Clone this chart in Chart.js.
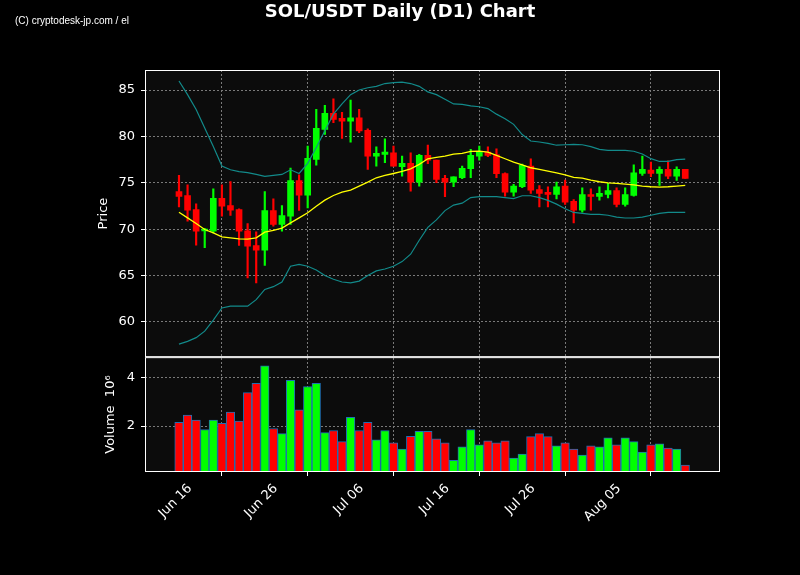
<!DOCTYPE html>
<html>
<head>
<meta charset="utf-8">
<script src="https://cdn.jsdelivr.net/npm/chart.js@4.4.1/dist/chart.umd.min.js"></script>
<style>
  body { margin: 0; background: #000; }
  #wrap { position: relative; width: 800px; height: 575px; }
  #mark { position: absolute; left: 15px; top: 15px; font: 10px 'Liberation Sans Narrow', 'Liberation Sans', sans-serif; color: #fff; }
  #title { position: absolute; left: 0; top: 0; width: 800px; text-align: center; font: bold 18px 'DejaVu Sans', sans-serif; color: #fff; }
  canvas { position: absolute; left: 0; top: 0; }
</style>
</head>
<body>
<div id="wrap">
  <canvas id="myChart" width="800" height="575"></canvas>
  <div id="mark">(C) cryptodesk-jp.com / el</div>
  <div id="title">SOL/USDT Daily (D1) Chart</div>
</div>
<script>
// dia 0 = Jun 16, una vela por dia hasta Aug 14
const tickLabels = ['Jun 16', 'Jun 26', 'Jul 06', 'Jul 16', 'Jul 26', 'Aug 05', '']

const opens  = [74.06, 73.63, 72.12, 69.8, 69.78, 73.31, 72.55, 72.12, 69.82, 68.24,
                67.73, 72.01, 70.5, 71.4, 75.25, 73.67, 77.52, 80.76, 82.48, 81.94,
                81.65, 82.0, 80.65, 77.88, 78.06, 78.24, 76.73, 77.09, 75.07, 77.95,
                77.45, 75.47, 75.07, 75.54, 76.51, 77.88, 78.31, 78.02, 76.0, 73.99,
                74.57, 76.8, 74.28, 73.96, 73.74, 74.64, 72.99, 72.05, 73.74, 73.53,
                73.74, 74.17, 72.66, 73.63, 76.01, 76.37, 76.01, 76.44, 75.72, 76.44]
const highs  = [75.79, 74.78, 72.73, 70.1, 74.35, 74.78, 75.14, 72.19, 70.61, 69.71,
                74.06, 73.27, 72.55, 76.58, 75.86, 78.96, 82.91, 83.35, 84.06, 82.6,
                83.92, 82.91, 80.83, 78.88, 79.75, 78.96, 77.88, 78.24, 78.06, 79.06,
                77.45, 75.79, 75.65, 76.8, 78.6, 78.96, 78.88, 78.67, 76.08, 74.82,
                77.01, 77.59, 74.71, 74.57, 75.07, 75.29, 73.2, 74.46, 74.35, 74.57,
                74.93, 74.46, 74.46, 76.94, 77.88, 77.23, 76.73, 77.37, 76.73, 76.44]
const lows   = [72.41, 70.86, 68.27, 68.0, 69.6, 71.4, 71.47, 68.24, 64.75, 64.21,
                66.08, 70.32, 69.78, 70.5, 72.01, 72.3, 76.91, 80.22, 81.47, 79.78,
                79.39, 80.4, 76.44, 76.8, 77.16, 76.8, 75.72, 74.1, 74.64, 77.05,
                75.0, 73.49, 74.57, 75.43, 75.54, 77.45, 77.81, 75.54, 73.56, 73.56,
                74.46, 73.85, 72.41, 72.41, 73.27, 72.66, 70.68, 71.83, 72.05, 73.13,
                73.38, 72.41, 72.48, 73.56, 75.79, 75.65, 74.71, 75.43, 75.25, 75.47]
const closes = [73.53, 72.05, 69.78, 70.0, 73.31, 72.48, 72.05, 69.78, 68.17, 67.73,
                72.01, 70.5, 71.47, 75.25, 73.67, 77.63, 80.86, 82.48, 81.83, 81.65,
                82.0, 80.58, 77.88, 78.17, 78.31, 76.8, 77.09, 75.07, 77.95, 77.45,
                75.36, 75.07, 75.65, 76.55, 77.95, 78.31, 77.95, 75.97, 73.99, 74.64,
                76.87, 74.21, 73.85, 73.74, 74.57, 72.91, 72.05, 73.74, 73.53, 73.85,
                74.17, 72.66, 73.74, 76.08, 76.44, 76.01, 76.44, 75.72, 76.44, 75.47]

// volumen en millones
const volumes = [2.15, 2.45, 2.24, 1.86, 2.24, 2.11, 2.57, 2.2, 3.37, 3.75,
                 4.46, 1.9, 1.69, 3.87, 2.66, 3.62, 3.75, 1.73, 1.82, 1.36,
                 2.36, 1.82, 2.15, 1.44, 1.82, 1.31, 1.06, 1.58, 1.78, 1.78,
                 1.48, 1.31, 0.6, 1.15, 1.86, 1.23, 1.4, 1.31, 1.4, 0.69,
                 0.85, 1.57, 1.69, 1.57, 1.19, 1.31, 1.06, 0.81, 1.19, 1.15,
                 1.52, 1.23, 1.52, 1.36, 0.94, 1.23, 1.27, 1.1, 1.06, 0.4]

const media   = [71.83, 71.22, 70.61, 69.96, 69.6, 69.17, 69.06, 68.96, 68.92, 69.06,
                 69.68, 69.86, 70.11, 70.68, 71.22, 71.76, 72.48, 73.13, 73.63, 73.99,
                 74.21, 74.64, 75.07, 75.54, 75.79, 76.0, 76.22, 76.51, 76.98, 77.59,
                 77.73, 77.88, 78.09, 78.17, 78.38, 78.42, 78.31, 77.95, 77.59, 77.23,
                 76.92, 76.62, 76.44, 76.26, 76.08, 75.86, 75.58, 75.5, 75.29, 75.11,
                 75.0, 74.93, 74.86, 74.78, 74.64, 74.57, 74.53, 74.57, 74.64, 74.71]
const bandaSup = [85.97, 84.5, 82.9, 80.9, 78.9, 76.8, 76.4, 76.2, 76.1, 75.9,
                  75.7, 75.8, 75.9, 76.4, 76.0, 77.1, 78.8, 80.6, 82.4, 83.5,
                  84.5, 85.0, 85.25, 85.4, 85.7, 85.8, 85.85, 85.7, 85.4, 84.8,
                  84.5, 84.0, 83.5, 83.45, 83.3, 83.2, 83.0, 82.4, 81.9, 81.3,
                  80.2, 79.5, 79.4, 79.25, 79.05, 79.1, 79.15, 79.1, 78.9, 78.6,
                  78.5, 78.5, 78.5, 78.4, 78.1, 77.6, 77.3, 77.3, 77.5, 77.55]
const bandaInf = [57.6, 57.9, 58.3, 59.0, 60.2, 61.5, 61.7, 61.7, 61.7, 62.4,
                  63.5, 63.8, 64.3, 66.0, 66.2, 66.0, 65.6, 65.0, 64.6, 64.3,
                  64.2, 64.4, 65.0, 65.5, 65.7, 66.0, 66.5, 67.3, 68.8, 70.2,
                  71.0, 72.0, 72.6, 72.8, 73.4, 73.5, 73.5, 73.5, 73.4, 73.3,
                  73.6, 73.6, 73.4, 73.1, 72.7, 72.2, 71.8, 71.7, 71.6, 71.6,
                  71.5, 71.3, 71.2, 71.2, 71.3, 71.5, 71.7, 71.8, 71.8, 71.8]

const dias = opens.map((_, i) => i)
const colores = dias.map(i => closes[i] >= opens[i] ? '#00ff00' : '#ff0000')
const linea = (serie) => dias.map(i => ({ x: i, y: serie[i] }))

const marco = {
    id: 'marco',
    beforeDraw(chart) {
        const { ctx, chartArea } = chart
        ctx.save()
        ctx.fillStyle = '#0c0c0c'
        ctx.fillRect(chartArea.left, chartArea.top, chartArea.width, chartArea.height)
        ctx.restore()
    },
    afterDraw(chart) {
        const { ctx, chartArea } = chart
        ctx.save()
        ctx.strokeStyle = '#ffffff'
        ctx.lineWidth = 1
        ;['y', 'yv'].forEach(id => {
            const s = chart.scales[id]
            ctx.strokeRect(chartArea.left + 0.5, s.top + 0.5, chartArea.width - 1, s.bottom - s.top - 1)
        })
        ctx.restore()
    }
}

Chart.defaults.font.family = 'DejaVu Sans'
Chart.defaults.font.size = 13
Chart.defaults.color = '#ffffff'

const grid = { color: '#7a7a7a', tickColor: '#ffffff', tickLength: 4, tickBorderDash: [1, 0] }

const ctx = document.getElementById('myChart')

new Chart(ctx, {
    data: {
        datasets: [
            { type: 'line', data: linea(bandaSup), borderColor: '#128a8a', borderWidth: 1.2, pointRadius: 0, yAxisID: 'y', order: 0 },
            { type: 'line', data: linea(bandaInf), borderColor: '#128a8a', borderWidth: 1.2, pointRadius: 0, yAxisID: 'y', order: 0 },
            { type: 'line', data: linea(media), borderColor: '#ffff00', borderWidth: 1.3, pointRadius: 0, yAxisID: 'y', order: 0 },
            { type: 'bar', data: dias.map(i => ({ x: i, y: [lows[i], highs[i]] })), backgroundColor: colores,
              barThickness: 1.5, grouped: false, yAxisID: 'y', order: 1 },
            { type: 'bar', data: dias.map(i => ({ x: i, y: [opens[i], closes[i]] })), backgroundColor: colores,
              barThickness: 6, minBarLength: 1.5, grouped: false, yAxisID: 'y', order: 1 },
            { type: 'bar', data: dias.map(i => ({ x: i, y: volumes[i] })), backgroundColor: colores,
              borderColor: '#1f6fb4', borderWidth: 1, borderSkipped: false, barThickness: 8.5, grouped: false, yAxisID: 'yv', order: 1 }
        ]
    },
    options: {
        responsive: false,
        animation: false,
        devicePixelRatio: 1,
        layout: { padding: { top: 70, left: 90, right: 80, bottom: 43 } },
        plugins: { legend: { display: false }, tooltip: { enabled: false } },
        scales: {
            x: {
                type: 'linear', min: -3.96, max: 63.05, offset: false,
                grid: grid, border: { display: false, dash: [2, 2] },
                ticks: { stepSize: 10, includeBounds: false, autoSkip: false, maxRotation: 45, minRotation: 45,
                         labelOffset: 11, padding: 5,
                         callback: v => tickLabels[Math.round(v / 10)] },
                afterFit: s => { s.height = 60 }
            },
            yv: {
                type: 'linear', position: 'left', stack: 'paneles', stackWeight: 1, offset: false,
                min: 0.12, max: 4.82,
                grid: grid, border: { display: false, dash: [2, 2] },
                ticks: { stepSize: 2, includeBounds: false, padding: 6 },
                title: { display: true, text: 'Volume  10\u2076', padding: 13 },
                afterFit: s => { s.width = 55 }
            },
            y: {
                type: 'linear', position: 'left', stack: 'paneles', stackWeight: 2.5,
                min: 56.2, max: 87.16,
                grid: grid, border: { display: false, dash: [2, 2] },
                ticks: { stepSize: 5, includeBounds: false, padding: 6 },
                title: { display: true, text: 'Price', padding: 6 },
                afterFit: s => { s.width = 55 }
            }
        }
    },
    plugins: [marco]
})
</script>
</body>
</html>
